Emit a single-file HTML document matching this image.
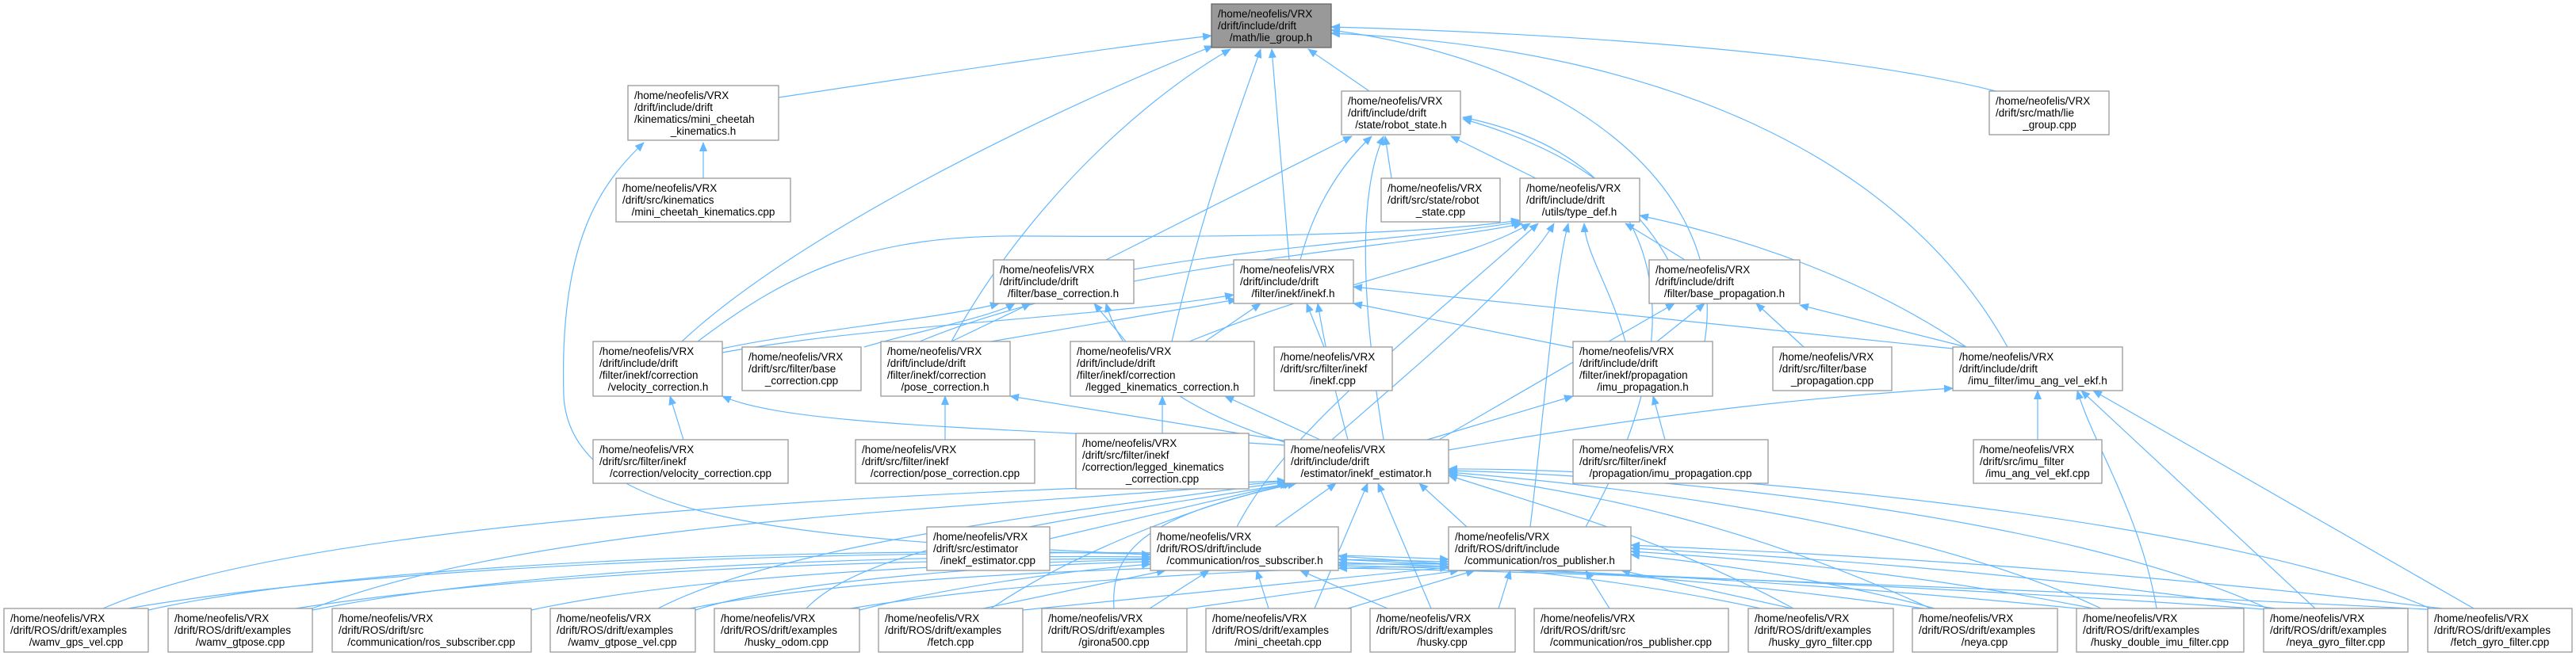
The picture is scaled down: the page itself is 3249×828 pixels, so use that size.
<!DOCTYPE html>
<html><head><meta charset="utf-8"><style>
html,body{margin:0;padding:0;background:#fff;}
svg{display:block;}
.n rect{fill:#fff;stroke:#999;stroke-width:1.3;}
.n text{font-family:"Liberation Sans",sans-serif;font-size:13.5px;fill:#000;}
.e path{fill:none;stroke:#63b8ff;stroke-width:1.2;}
</style></head><body>
<svg width="3249" height="828" viewBox="0 0 3249 828" xmlns="http://www.w3.org/2000/svg">
<defs><marker id="a" markerWidth="12" markerHeight="10" refX="11" refY="5" orient="auto" markerUnits="userSpaceOnUse"><path d="M0,0 L12,5 L0,10 Z" fill="#63b8ff"/></marker></defs>
<g class="e" marker-end="url(#a)">
<path d="M982,123 C1200,90 1400,60 1528,45" marker-end="url(#a)"/>
<path d="M887,225 L887,180" marker-end="url(#a)"/>
<path d="M1451,700 C1000,680 720,660 711,500 C705,300 760,230 812,180" marker-end="url(#a)"/>
<path d="M860,431 C1000,300 1300,150 1530,58" marker-end="url(#a)"/>
<path d="M1200,431 C1300,250 1450,120 1552,62" marker-end="url(#a)"/>
<path d="M1478,431 C1520,250 1570,120 1590,62" marker-end="url(#a)"/>
<path d="M1626,328 L1604,62" marker-end="url(#a)"/>
<path d="M1727,115 L1650,62" marker-end="url(#a)"/>
<path d="M2517,115 C2300,60 1900,40 1679,34" marker-end="url(#a)"/>
<path d="M2150,431 C2180,250 2000,80 1679,38" marker-end="url(#a)"/>
<path d="M2532,438 C2400,200 2100,60 1679,42" marker-end="url(#a)"/>
<path d="M1755,225 L1747,172" marker-end="url(#a)"/>
<path d="M1937,225 L1830,172" marker-end="url(#a)"/>
<path d="M1395,328 L1705,172" marker-end="url(#a)"/>
<path d="M1640,328 C1660,250 1700,200 1730,172" marker-end="url(#a)"/>
<path d="M1745,555 C1720,400 1710,250 1745,172" marker-end="url(#a)"/>
<path d="M2104,328 C2050,230 1950,180 1845,150" marker-end="url(#a)"/>
<path d="M2000,665 C2150,400 2100,200 1845,148" marker-end="url(#a)"/>
<path d="M2125,328 L2050,282" marker-end="url(#a)"/>
<path d="M1430,340 C1600,310 1800,300 1917,280" marker-end="url(#a)"/>
<path d="M880,431 C1000,340 1100,295 1300,298 C1600,300 1800,295 1917,278" marker-end="url(#a)"/>
<path d="M1160,431 C1400,330 1800,310 1920,282" marker-end="url(#a)"/>
<path d="M1500,431 C1700,350 1850,330 1930,282" marker-end="url(#a)"/>
<path d="M1680,555 C1800,450 1920,350 1960,282" marker-end="url(#a)"/>
<path d="M2050,431 C2030,360 2000,320 1998,282" marker-end="url(#a)"/>
<path d="M1930,665 C1950,500 1960,350 1978,282" marker-end="url(#a)"/>
<path d="M2480,438 C2350,350 2200,300 2068,272" marker-end="url(#a)"/>
<path d="M1560,665 C1620,550 1750,450 1940,282" marker-end="url(#a)"/>
<path d="M1090,438 C1150,420 1250,400 1280,383" marker-end="url(#a)"/>
<path d="M911,440 C1000,420 1200,400 1260,383" marker-end="url(#a)"/>
<path d="M1200,431 L1300,383" marker-end="url(#a)"/>
<path d="M1420,431 L1380,383" marker-end="url(#a)"/>
<path d="M1620,558 C1500,520 1420,470 1395,383" marker-end="url(#a)"/>
<path d="M911,445 C1100,410 1400,400 1556,372" marker-end="url(#a)"/>
<path d="M1250,431 L1560,378" marker-end="url(#a)"/>
<path d="M1520,431 L1590,383" marker-end="url(#a)"/>
<path d="M1670,438 L1648,383" marker-end="url(#a)"/>
<path d="M1700,555 C1680,480 1670,430 1662,383" marker-end="url(#a)"/>
<path d="M1990,440 L1707,383" marker-end="url(#a)"/>
<path d="M2463,440 L1707,362" marker-end="url(#a)"/>
<path d="M2275,438 L2215,383" marker-end="url(#a)"/>
<path d="M2090,431 L2150,383" marker-end="url(#a)"/>
<path d="M2480,438 L2270,385" marker-end="url(#a)"/>
<path d="M1815,555 L2112,383" marker-end="url(#a)"/>
<path d="M2100,555 L2085,500" marker-end="url(#a)"/>
<path d="M1800,555 L1984,500" marker-end="url(#a)"/>
<path d="M862,555 L845,500" marker-end="url(#a)"/>
<path d="M1192,555 L1192,500" marker-end="url(#a)"/>
<path d="M1466,547 L1466,500" marker-end="url(#a)"/>
<path d="M1620,562 C1300,540 1000,540 911,500" marker-end="url(#a)"/>
<path d="M1625,557 L1274,500" marker-end="url(#a)"/>
<path d="M1665,555 L1545,500" marker-end="url(#a)"/>
<path d="M2570,555 L2570,493" marker-end="url(#a)"/>
<path d="M1827,568 C2100,520 2300,500 2463,490" marker-end="url(#a)"/>
<path d="M1324,680 L1625,610" marker-end="url(#a)"/>
<path d="M1608,665 L1685,610" marker-end="url(#a)"/>
<path d="M1850,665 L1790,610" marker-end="url(#a)"/>
<path d="M130,768 C400,650 1200,620 1622,607" marker-end="url(#a)"/>
<path d="M394,768 C700,650 1300,640 1622,607" marker-end="url(#a)"/>
<path d="M830,768 C1000,680 1400,640 1625,608" marker-end="url(#a)"/>
<path d="M1017,768 C1100,680 1400,650 1628,610" marker-end="url(#a)"/>
<path d="M1250,768 C1350,700 1500,640 1630,610" marker-end="url(#a)"/>
<path d="M1405,768 C1400,690 1450,650 1635,610" marker-end="url(#a)"/>
<path d="M1658,768 L1725,610" marker-end="url(#a)"/>
<path d="M1805,768 L1738,610" marker-end="url(#a)"/>
<path d="M2262,768 C2100,680 1950,640 1827,600" marker-end="url(#a)"/>
<path d="M2435,768 C2200,660 2000,620 1827,598" marker-end="url(#a)"/>
<path d="M2650,768 C2400,650 2000,610 1827,596" marker-end="url(#a)"/>
<path d="M2860,768 C2600,650 2100,600 1827,594" marker-end="url(#a)"/>
<path d="M3065,768 C2800,650 2100,590 1827,592" marker-end="url(#a)"/>
<path d="M187,770 C500,700 1200,690 1451,700" marker-end="url(#a)"/>
<path d="M394,770 C700,710 1200,700 1451,703" marker-end="url(#a)"/>
<path d="M670,770 C900,720 1300,710 1451,706" marker-end="url(#a)"/>
<path d="M877,770 C1000,730 1300,712 1451,709" marker-end="url(#a)"/>
<path d="M1084,770 C1200,740 1350,720 1451,712" marker-end="url(#a)"/>
<path d="M1240,768 L1470,720" marker-end="url(#a)"/>
<path d="M1450,768 L1525,720" marker-end="url(#a)"/>
<path d="M1600,768 L1585,720" marker-end="url(#a)"/>
<path d="M1750,768 L1640,720" marker-end="url(#a)"/>
<path d="M2230,770 C2000,720 1800,710 1688,702" marker-end="url(#a)"/>
<path d="M2440,770 C2100,720 1800,712 1688,706" marker-end="url(#a)"/>
<path d="M2640,770 C2200,725 1800,714 1688,710" marker-end="url(#a)"/>
<path d="M2870,770 C2300,730 1800,716 1688,714" marker-end="url(#a)"/>
<path d="M3080,770 C2400,735 1800,718 1688,717" marker-end="url(#a)"/>
<path d="M150,770 C600,690 1500,690 1827,706" marker-end="url(#a)"/>
<path d="M360,770 C800,700 1500,700 1827,709" marker-end="url(#a)"/>
<path d="M860,770 C1100,720 1600,710 1827,712" marker-end="url(#a)"/>
<path d="M1060,770 C1300,730 1650,715 1827,715" marker-end="url(#a)"/>
<path d="M1290,770 L1827,716" marker-end="url(#a)"/>
<path d="M1497,768 L1840,720" marker-end="url(#a)"/>
<path d="M1700,768 L1860,720" marker-end="url(#a)"/>
<path d="M1890,768 L1905,720" marker-end="url(#a)"/>
<path d="M2030,768 L2000,720" marker-end="url(#a)"/>
<path d="M2260,768 L2045,720" marker-end="url(#a)"/>
<path d="M2440,768 C2300,730 2150,710 2057,700" marker-end="url(#a)"/>
<path d="M2640,768 C2400,720 2200,705 2057,696" marker-end="url(#a)"/>
<path d="M2870,768 C2500,715 2200,700 2057,692" marker-end="url(#a)"/>
<path d="M3080,768 C2600,710 2200,695 2057,688" marker-end="url(#a)"/>
<path d="M2720,768 C2700,650 2640,560 2620,493" marker-end="url(#a)"/>
<path d="M2920,768 L2625,493" marker-end="url(#a)"/>
<path d="M3120,768 L2640,493" marker-end="url(#a)"/>
</g>

<g class="n">
<rect x="1528" y="5" width="151" height="55" style="fill:#999;stroke:#666"/>
<text x="1536" y="22">/home/neofelis/VRX</text><text x="1536" y="37">/drift/include/drift</text><text x="1603" y="52" text-anchor="middle">/math/lie_group.h</text>

<rect x="792" y="108" width="190" height="69"/>
<text x="800" y="125">/home/neofelis/VRX</text><text x="800" y="140">/drift/include/drift</text><text x="800" y="155">/kinematics/mini_cheetah</text><text x="887" y="170" text-anchor="middle">_kinematics.h</text>

<rect x="777" y="225" width="220" height="55"/>
<text x="785" y="242">/home/neofelis/VRX</text><text x="785" y="257">/drift/src/kinematics</text><text x="887" y="272" text-anchor="middle">/mini_cheetah_kinematics.cpp</text>

<rect x="1692" y="115" width="150" height="55"/>
<text x="1700" y="132">/home/neofelis/VRX</text><text x="1700" y="147">/drift/include/drift</text><text x="1767" y="162" text-anchor="middle">/state/robot_state.h</text>

<rect x="2509" y="115" width="151" height="55"/>
<text x="2517" y="132">/home/neofelis/VRX</text><text x="2517" y="147">/drift/src/math/lie</text><text x="2585" y="162" text-anchor="middle">_group.cpp</text>

<rect x="1742" y="225" width="150" height="55"/>
<text x="1750" y="242">/home/neofelis/VRX</text><text x="1750" y="257">/drift/src/state/robot</text><text x="1817" y="272" text-anchor="middle">_state.cpp</text>

<rect x="1917" y="225" width="151" height="55"/>
<text x="1925" y="242">/home/neofelis/VRX</text><text x="1925" y="257">/drift/include/drift</text><text x="1992" y="272" text-anchor="middle">/utils/type_def.h</text>

<rect x="1253" y="328" width="177" height="55"/>
<text x="1261" y="345">/home/neofelis/VRX</text><text x="1261" y="360">/drift/include/drift</text><text x="1341" y="375" text-anchor="middle">/filter/base_correction.h</text>

<rect x="1556" y="328" width="151" height="55"/>
<text x="1564" y="345">/home/neofelis/VRX</text><text x="1564" y="360">/drift/include/drift</text><text x="1631" y="375" text-anchor="middle">/filter/inekf/inekf.h</text>

<rect x="2080" y="328" width="190" height="55"/>
<text x="2088" y="345">/home/neofelis/VRX</text><text x="2088" y="360">/drift/include/drift</text><text x="2175" y="375" text-anchor="middle">/filter/base_propagation.h</text>

<rect x="748" y="431" width="163" height="69"/>
<text x="756" y="448">/home/neofelis/VRX</text><text x="756" y="463">/drift/include/drift</text><text x="756" y="478">/filter/inekf/correction</text><text x="830" y="493" text-anchor="middle">/velocity_correction.h</text>

<rect x="936" y="438" width="150" height="55"/>
<text x="944" y="455">/home/neofelis/VRX</text><text x="944" y="470">/drift/src/filter/base</text><text x="1011" y="485" text-anchor="middle">_correction.cpp</text>

<rect x="1111" y="431" width="163" height="69"/>
<text x="1119" y="448">/home/neofelis/VRX</text><text x="1119" y="463">/drift/include/drift</text><text x="1119" y="478">/filter/inekf/correction</text><text x="1192" y="493" text-anchor="middle">/pose_correction.h</text>

<rect x="1350" y="431" width="232" height="69"/>
<text x="1358" y="448">/home/neofelis/VRX</text><text x="1358" y="463">/drift/include/drift</text><text x="1358" y="478">/filter/inekf/correction</text><text x="1466" y="493" text-anchor="middle">/legged_kinematics_correction.h</text>

<rect x="1607" y="438" width="149" height="55"/>
<text x="1615" y="455">/home/neofelis/VRX</text><text x="1615" y="470">/drift/src/filter/inekf</text><text x="1681" y="485" text-anchor="middle">/inekf.cpp</text>

<rect x="1984" y="431" width="176" height="69"/>
<text x="1992" y="448">/home/neofelis/VRX</text><text x="1992" y="463">/drift/include/drift</text><text x="1992" y="478">/filter/inekf/propagation</text><text x="2072" y="493" text-anchor="middle">/imu_propagation.h</text>

<rect x="2236" y="438" width="150" height="55"/>
<text x="2244" y="455">/home/neofelis/VRX</text><text x="2244" y="470">/drift/src/filter/base</text><text x="2311" y="485" text-anchor="middle">_propagation.cpp</text>

<rect x="2463" y="438" width="214" height="55"/>
<text x="2471" y="455">/home/neofelis/VRX</text><text x="2471" y="470">/drift/include/drift</text><text x="2570" y="485" text-anchor="middle">/imu_filter/imu_ang_vel_ekf.h</text>

<rect x="748" y="555" width="246" height="55"/>
<text x="756" y="572">/home/neofelis/VRX</text><text x="756" y="587">/drift/src/filter/inekf</text><text x="871" y="602" text-anchor="middle">/correction/velocity_correction.cpp</text>

<rect x="1079" y="555" width="226" height="55"/>
<text x="1087" y="572">/home/neofelis/VRX</text><text x="1087" y="587">/drift/src/filter/inekf</text><text x="1192" y="602" text-anchor="middle">/correction/pose_correction.cpp</text>

<rect x="1357" y="547" width="218" height="70"/>
<text x="1365" y="564">/home/neofelis/VRX</text><text x="1365" y="579">/drift/src/filter/inekf</text><text x="1365" y="594">/correction/legged_kinematics</text><text x="1466" y="609" text-anchor="middle">_correction.cpp</text>

<rect x="1620" y="555" width="207" height="55"/>
<text x="1628" y="572">/home/neofelis/VRX</text><text x="1628" y="587">/drift/include/drift</text><text x="1723" y="602" text-anchor="middle">/estimator/inekf_estimator.h</text>

<rect x="1984" y="555" width="246" height="55"/>
<text x="1992" y="572">/home/neofelis/VRX</text><text x="1992" y="587">/drift/src/filter/inekf</text><text x="2107" y="602" text-anchor="middle">/propagation/imu_propagation.cpp</text>

<rect x="2489" y="555" width="162" height="55"/>
<text x="2497" y="572">/home/neofelis/VRX</text><text x="2497" y="587">/drift/src/imu_filter</text><text x="2570" y="602" text-anchor="middle">/imu_ang_vel_ekf.cpp</text>

<rect x="1169" y="665" width="155" height="55"/>
<text x="1177" y="682">/home/neofelis/VRX</text><text x="1177" y="697">/drift/src/estimator</text><text x="1246" y="712" text-anchor="middle">/inekf_estimator.cpp</text>

<rect x="1451" y="665" width="237" height="55"/>
<text x="1459" y="682">/home/neofelis/VRX</text><text x="1459" y="697">/drift/ROS/drift/include</text><text x="1570" y="712" text-anchor="middle">/communication/ros_subscriber.h</text>

<rect x="1827" y="665" width="230" height="55"/>
<text x="1835" y="682">/home/neofelis/VRX</text><text x="1835" y="697">/drift/ROS/drift/include</text><text x="1942" y="712" text-anchor="middle">/communication/ros_publisher.h</text>

<rect x="5" y="768" width="182" height="55"/>
<text x="13" y="785">/home/neofelis/VRX</text><text x="13" y="800">/drift/ROS/drift/examples</text><text x="96" y="815" text-anchor="middle">/wamv_gps_vel.cpp</text>
<rect x="212" y="768" width="182" height="55"/>
<text x="220" y="785">/home/neofelis/VRX</text><text x="220" y="800">/drift/ROS/drift/examples</text><text x="303" y="815" text-anchor="middle">/wamv_gtpose.cpp</text>
<rect x="419" y="768" width="251" height="55"/>
<text x="427" y="785">/home/neofelis/VRX</text><text x="427" y="800">/drift/ROS/drift/src</text><text x="544" y="815" text-anchor="middle">/communication/ros_subscriber.cpp</text>
<rect x="694" y="768" width="183" height="55"/>
<text x="702" y="785">/home/neofelis/VRX</text><text x="702" y="800">/drift/ROS/drift/examples</text><text x="785" y="815" text-anchor="middle">/wamv_gtpose_vel.cpp</text>
<rect x="901" y="768" width="183" height="55"/>
<text x="909" y="785">/home/neofelis/VRX</text><text x="909" y="800">/drift/ROS/drift/examples</text><text x="992" y="815" text-anchor="middle">/husky_odom.cpp</text>
<rect x="1108" y="768" width="182" height="55"/>
<text x="1116" y="785">/home/neofelis/VRX</text><text x="1116" y="800">/drift/ROS/drift/examples</text><text x="1199" y="815" text-anchor="middle">/fetch.cpp</text>
<rect x="1314" y="768" width="183" height="55"/>
<text x="1322" y="785">/home/neofelis/VRX</text><text x="1322" y="800">/drift/ROS/drift/examples</text><text x="1405" y="815" text-anchor="middle">/girona500.cpp</text>
<rect x="1521" y="768" width="183" height="55"/>
<text x="1529" y="785">/home/neofelis/VRX</text><text x="1529" y="800">/drift/ROS/drift/examples</text><text x="1612" y="815" text-anchor="middle">/mini_cheetah.cpp</text>
<rect x="1728" y="768" width="183" height="55"/>
<text x="1736" y="785">/home/neofelis/VRX</text><text x="1736" y="800">/drift/ROS/drift/examples</text><text x="1819" y="815" text-anchor="middle">/husky.cpp</text>
<rect x="1935" y="768" width="245" height="55"/>
<text x="1943" y="785">/home/neofelis/VRX</text><text x="1943" y="800">/drift/ROS/drift/src</text><text x="2057" y="815" text-anchor="middle">/communication/ros_publisher.cpp</text>
<rect x="2205" y="768" width="183" height="55"/>
<text x="2213" y="785">/home/neofelis/VRX</text><text x="2213" y="800">/drift/ROS/drift/examples</text><text x="2296" y="815" text-anchor="middle">/husky_gyro_filter.cpp</text>
<rect x="2412" y="768" width="183" height="55"/>
<text x="2420" y="785">/home/neofelis/VRX</text><text x="2420" y="800">/drift/ROS/drift/examples</text><text x="2503" y="815" text-anchor="middle">/neya.cpp</text>
<rect x="2619" y="768" width="211" height="55"/>
<text x="2627" y="785">/home/neofelis/VRX</text><text x="2627" y="800">/drift/ROS/drift/examples</text><text x="2724" y="815" text-anchor="middle">/husky_double_imu_filter.cpp</text>
<rect x="2855" y="768" width="182" height="55"/>
<text x="2863" y="785">/home/neofelis/VRX</text><text x="2863" y="800">/drift/ROS/drift/examples</text><text x="2946" y="815" text-anchor="middle">/neya_gyro_filter.cpp</text>
<rect x="3062" y="768" width="182" height="55"/>
<text x="3070" y="785">/home/neofelis/VRX</text><text x="3070" y="800">/drift/ROS/drift/examples</text><text x="3153" y="815" text-anchor="middle">/fetch_gyro_filter.cpp</text>
</g>
</svg>
</body></html>
